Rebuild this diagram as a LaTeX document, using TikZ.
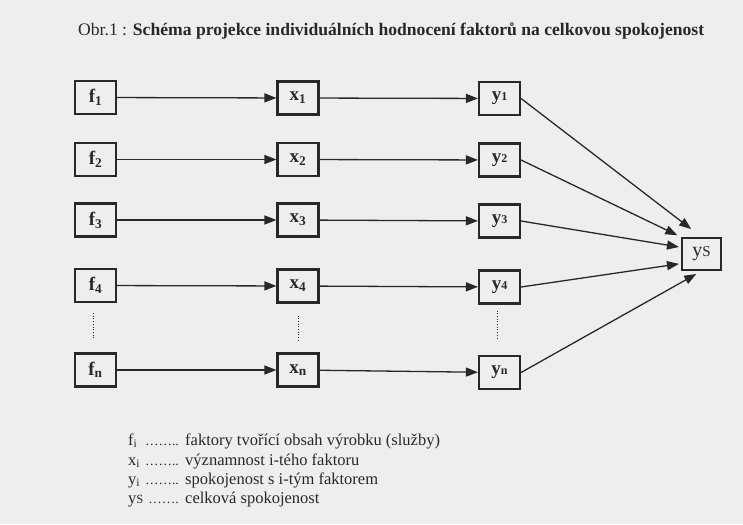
\documentclass[tikz,border=0pt]{standalone}
\usepackage{fontspec}
\setmainfont{Liberation Serif}
\usetikzlibrary{arrows.meta,calc}
\definecolor{bg}{RGB}{238,238,236}
\definecolor{ink}{RGB}{40,40,40}
\begin{document}
\begin{tikzpicture}[x=1pt,y=-1pt,
  box/.style={draw=ink, line width=2.1pt, minimum width=41pt, minimum height=33pt,
    inner sep=0pt, text=ink, font=\fontsize{19}{19}\selectfont\bfseries},
  arr/.style={draw=ink, line width=1.3pt, -{Triangle[length=12pt,width=9pt]}},
  dotline/.style={draw=ink, line width=0.7pt, dotted},
  legend/.style={anchor=base west, inner sep=0pt, text=ink, font=\fontsize{16.5}{16.5}\selectfont},
  leaders/.style={anchor=base east, inner sep=0pt, text=ink, font=\fontsize{13.5}{13.5}\selectfont}]
\fill[bg] (0,0) rectangle (743,524);
\useasboundingbox (0,0) rectangle (743,524);

% title
\node[anchor=base west, inner sep=0pt, text=ink, font=\fontsize{17.6}{18}\selectfont] (title) at (78,36)
  {Obr.1 : \textbf{Schéma projekce individuálních hodnocení faktorů na celkovou spokojenost}};

% factor boxes
\node[box] (f1) at (95.5,97.5) {f\textsubscript{1}};
\node[box] (f2) at (95.5,159.5) {f\textsubscript{2}};
\node[box] (f3) at (95.5,220) {f\textsubscript{3}};
\node[box] (f4) at (95.5,285.5) {f\textsubscript{4}};
\node[box] (fn) at (95.5,370) {f\textsubscript{n}};

\node[box] (x1) at (298,98) {x\textsubscript{1}};
\node[box] (x2) at (298,159.5) {x\textsubscript{2}};
\node[box] (x3) at (298,220) {x\textsubscript{3}};
\node[box] (x4) at (298,286) {x\textsubscript{4}};
\node[box] (xn) at (298,370) {x\textsubscript{n}};

\node[box] (y1) at (499.5,98.5) {y{\fontsize{12}{12}\selectfont 1}};
\node[box] (y2) at (499.5,160) {y{\fontsize{12}{12}\selectfont 2}};
\node[box] (y3) at (499.5,221) {y{\fontsize{12}{12}\selectfont 3}};
\node[box] (y4) at (499.5,287) {y{\fontsize{12}{12}\selectfont 4}};
\node[box] (yn) at (499.5,372.5) {y{\fontsize{12}{12}\selectfont n}};

\node[box, minimum width=39pt, minimum height=32pt, font=\fontsize{20}{20}\selectfont] (ys) at (701.5,254) {y{\fontsize{15}{15}\selectfont S}};

% horizontal arrows
\foreach \i in {1,2,3,4,n}{
  \draw[arr] (f\i) -- (x\i);
  \draw[arr] (x\i) -- (y\i);
}

% converging arrows
\draw[arr, shorten >=13pt] (y1.east) -- (ys.north);
\draw[arr, shorten >=4pt] (y2.east) -- (ys.north west);
\draw[arr, shorten >=2pt] (y3.east) -- (ys.162);
\draw[arr, shorten >=2pt] (y4.east) -- (ys.205);
\draw[arr, shorten >=6pt] (yn.east) -- (ys.south);

% dotted continuation marks
\draw[dotline] ($(f4.south)+(-2.5,10)$) -- ($(fn.north)+(-2.5,-15)$);
\draw[dotline] ($(x4.south)+(0,12)$) -- ($(xn.north)+(0,-12)$);
\draw[dotline] ($(y4.south)+(-2.5,6)$) -- ($(yn.north)+(-2.5,-17)$);

% legend
\node[legend] (l1) at (128,445) {f\textsubscript{i}};
\node[leaders] (p1) at (179,445) {……..};
\node[legend] (d1) at (185,445) {faktory tvořící obsah výrobku (služby)};
\node[legend] (l2) at (128,465) {x\textsubscript{i}};
\node[leaders] (p2) at (179,465) {……..};
\node[legend] (d2) at (185,465) {významnost i-tého faktoru};
\node[legend] (l3) at (128,484) {y\textsubscript{i}};
\node[leaders] (p3) at (179,484) {……..};
\node[legend] (d3) at (185,484) {spokojenost s i-tým faktorem};
\node[legend] (l4) at (128,503) {y{\fontsize{12.5}{12.5}\selectfont S}};
\node[leaders] (p4) at (179,503) {…….};
\node[legend] (d4) at (185,503) {celková spokojenost};
\end{tikzpicture}
\end{document}
